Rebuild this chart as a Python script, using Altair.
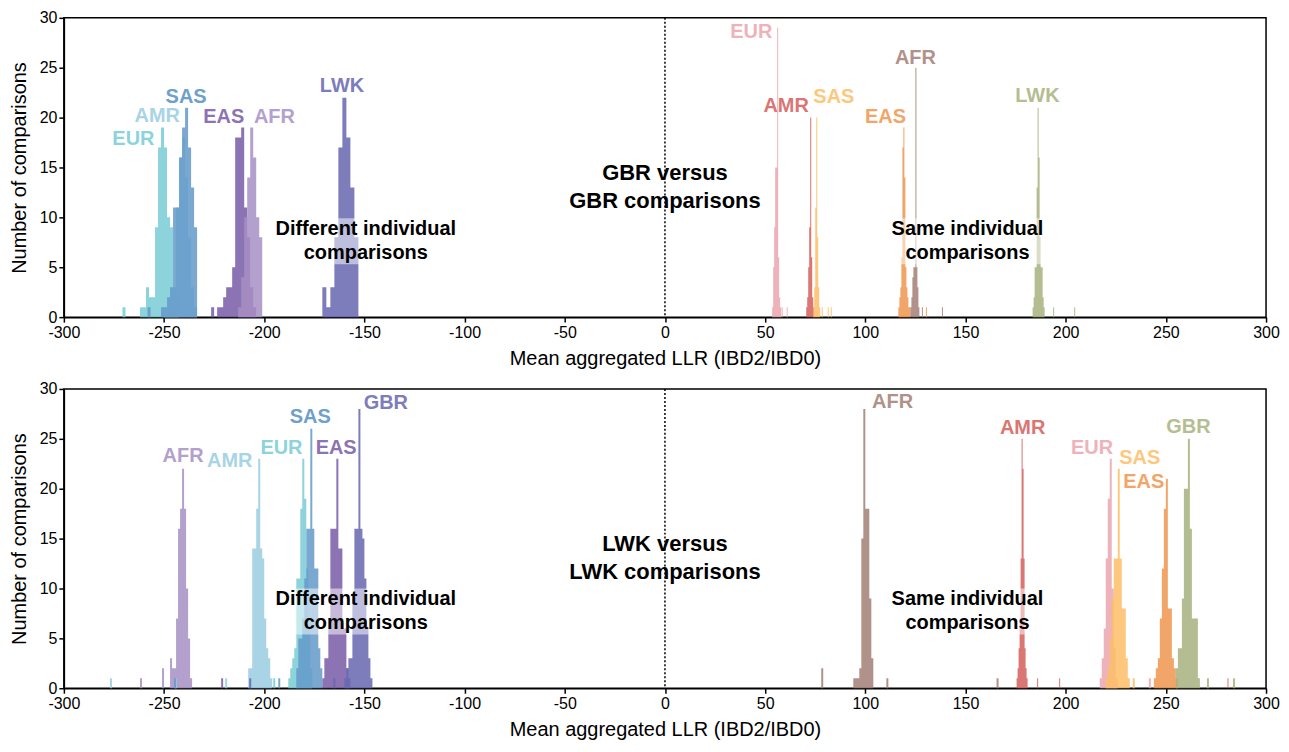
import altair as alt
import pandas as pd

# ---------------- axis ticks ----------------
X_TICKS = [-300, -250, -200, -150, -100, -50, 0, 50, 100, 150, 200, 250, 300]
Y_TICKS = [0, 5, 10, 15, 20, 25, 30]
X_TITLE = "Mean aggregated LLR (IBD2/IBD0)"
Y_TITLE = "Number of comparisons"

# ---------------- colour groups ----------------
KEYS = ["L_EUR", "L_AMR", "L_SAS", "L_EAS", "L_AFR", "L_REF",
        "R_EUR", "R_AMR", "R_SAS", "R_EAS", "R_AFR", "R_REF"]
BAR_COLORS = ["#79CBD5", "#99CCE2", "#6399C9", "#785AA7", "#A78FC4", "#6666B0",
              "#EBA4AE", "#D35E5A", "#FDBE66", "#F0954E", "#A27F75", "#A7B27E"]
LABEL_COLORS = ["#8DD3DB", "#A8D4E6", "#6EA0CC", "#8C73B4", "#B4A0CD", "#7D7DBC",
                "#EEB2BA", "#DA7673", "#FDC87D", "#F2A569", "#B0928A", "#B4BE91"]
BAR_COLOR = dict(zip(KEYS, BAR_COLORS))

# ---------------- TOP panel: GBR versus ... ----------------
# different individual comparisons (start, bin width, counts)
T_EUR_L = (-262.0, 1.5, [1, 1, 3, 2, 2, 9, 17, 19, 17, 10, 9, 3, 2])
T_AMR_L = (-250.0, 1.5, [1, 1, 2, 3, 11, 16, 18, 14, 8, 3, 1])
T_SAS_L = (-251.5, 1.5, [1, 1, 2, 3, 11, 11, 16, 19, 21, 17, 13, 9])
T_EAS_L = (-226.5, 1.5, [1, 0, 1, 1, 2, 3, 3, 5, 18, 18, 19, 11, 8, 3, 1])
T_AFR_L = (-213.0, 1.5, [1, 4, 10, 14, 19, 16, 10, 8])
T_LWK_L = (-171.0, 2.0, [3, 1, 3, 8, 17, 22, 18, 13, 8])
# same individual comparisons
T_EUR_R = (53.5, 0.5, [1, 5, 9, 15, 15, 29, 6, 2, 1])
T_AMR_R = (70.5, 0.5, [1, 2, 5, 9, 20, 6, 2, 1])
T_SAS_R = (74.0, 0.5, [1, 3, 11, 20, 8, 3, 1])
T_EAS_R = (116.5, 0.5, [1, 2, 3, 6, 17, 19, 14, 5, 3, 2, 1, 1])
T_AFR_R = (122.5, 0.5, [1, 2, 4, 5, 5, 25, 5, 3, 1])
T_LWK_R = (183.5, 0.5, [1, 2, 5, 5, 13, 21, 16, 8, 5, 5, 2, 1])
# isolated single comparisons (value, count)
T_OUT_EUR_L = [(-270.0, 1)]
T_OUT_SAS_L = [(-257.5, 1)]
T_OUT_EUR_R = [(58.5, 1), (61.0, 1)]
T_OUT_SAS_R = [(78.5, 1), (81.5, 1), (83.0, 1)]
T_OUT_EAS_R = [(130.5, 1)]
T_OUT_AFR_R = [(128.5, 1), (138.5, 1)]
T_OUT_LWK_R = [(194.0, 1), (204.5, 1)]

# ---------------- BOTTOM panel: LWK versus ... ----------------
B_AFR_L = (-247.0, 1.0, [3, 2, 2, 7, 16, 18, 22, 18, 10, 5, 1])
B_AMR_L = (-208.0, 1.0, [2, 2, 14, 14, 18, 23, 14, 13, 7, 4, 3, 1])
B_EUR_L = (-188.0, 1.0, [1, 2, 3, 4, 11, 11, 18, 23, 19, 12, 6, 2])
B_SAS_L = (-184.0, 1.0, [2, 5, 5, 7, 11, 16, 16, 26, 16, 12, 12, 4, 2])
B_EAS_L = (-171.0, 1.0, [1, 3, 3, 6, 16, 16, 16, 23, 14, 14, 6, 6, 2, 1])
B_GBR_L = (-160.0, 1.0, [1, 2, 3, 3, 9, 16, 16, 28, 16, 15, 11, 6, 3, 1])
B_AFR_R = (94.0, 1.0, [1, 1, 1, 2, 15, 28, 18, 18, 9, 3])
B_AMR_R = (175.5, 0.5, [1, 2, 4, 7, 13, 25, 22, 13, 4, 2, 1])
B_EUR_R = (217.0, 1.0, [1, 3, 6, 13, 19, 23, 10, 4, 1])
B_SAS_R = (220.0, 1.0, [1, 2, 5, 9, 13, 13, 22, 13, 8, 8, 3, 1])
B_EAS_R = (244.0, 1.0, [1, 2, 3, 7, 12, 18, 21, 8, 8, 3, 2, 1])
B_GBR_R = (255.0, 1.0, [2, 4, 4, 9, 20, 20, 25, 16, 7, 7, 7, 1])
B_OUT_AFR_L = [(-261.5, 1), (-250.5, 2)]
B_OUT_AMR_L = [(-276.5, 1), (-244.0, 1), (-219.0, 1)]
B_OUT_EUR_L = [(-195.0, 1)]
B_OUT_SAS_L = [(-244.5, 1), (-192.5, 1)]
B_OUT_EAS_L = [(-221.0, 1)]
B_OUT_GBR_L = [(-207.0, 1), (-165.0, 1)]
B_OUT_AFR_R = [(78.5, 2), (111.0, 1), (166.0, 1)]
B_OUT_AMR_R = [(186.0, 1), (197.0, 1), (281.0, 1)]
B_OUT_EUR_R = [(242.0, 1)]
B_OUT_SAS_R = [(234.0, 1)]
B_OUT_GBR_R = [(271.0, 1), (284.0, 1)]

# ---------------- labels ----------------
T_LABEL_TEXT = ["EUR", "AMR", "SAS", "EAS", "AFR", "LWK", "EUR", "AMR", "SAS", "EAS", "AFR", "LWK"]
T_LABEL_KEY = KEYS
T_LABEL_X = [-265.3, -253.4, -239.0, -220.2, -194.9, -161.2, 43.1, 60.5, 84.3, 110.1, 125.0, 185.9]
T_LABEL_Y = [17.9, 20.2, 22.1, 20.1, 20.1, 23.2, 28.6, 21.2, 22.1, 20.1, 26.0, 22.2]
B_LABEL_TEXT = ["AFR", "AMR", "EUR", "SAS", "EAS", "GBR", "AFR", "AMR", "EUR", "SAS", "EAS", "GBR"]
B_LABEL_KEY = ["L_AFR", "L_AMR", "L_EUR", "L_SAS", "L_EAS", "L_REF",
               "R_AFR", "R_AMR", "R_EUR", "R_SAS", "R_EAS", "R_REF"]
B_LABEL_X = [-240.5, -217.2, -191.4, -177.0, -164.1, -139.3, 113.6, 178.5, 213.2, 237.0, 239.0, 261.3]
B_LABEL_Y = [23.3, 22.8, 24.1, 27.2, 24.1, 28.6, 28.7, 26.1, 24.1, 23.1, 20.7, 26.2]

T_NOTE_TEXT = ["GBR versus", "GBR comparisons", "Different individual", "comparisons",
               "Same individual", "comparisons"]
B_NOTE_TEXT = ["LWK versus", "LWK comparisons", "Different individual", "comparisons",
               "Same individual", "comparisons"]
NOTE_X = [0.0, 0.0, -149.3, -149.3, 151.0, 151.0]
T_NOTE_Y = [14.4, 11.6, 8.84, 6.45, 8.84, 6.45]
B_NOTE_Y = [14.5, 11.7, 8.94, 6.55, 8.94, 6.55]
NOTE_SIZE = [22, 22, 20, 20, 20, 20]
BOX_X = [-195.0, 112.0]
BOX_X2 = [-103.0, 190.0]
T_BOX_Y = [5.3, 5.3]
T_BOX_Y2 = [9.9, 9.9]
B_BOX_Y = [5.4, 5.4]
B_BOX_Y2 = [10.0, 10.0]

FONT = "Liberation Sans"


def step_points(spec, outliers):
    """Histogram bins -> outline points for a step-after area (no seams between bins)."""
    start, width, counts = spec
    bins = [(start + i * width, start + (i + 1) * width, c) for i, c in enumerate(counts)]
    bins += [(v - width / 2, v + width / 2, c) for v, c in outliers]
    bins.sort()
    pts = []
    for i, (lo, hi, c) in enumerate(bins):
        pts.append((lo, c))
        nxt = bins[i + 1][0] if i + 1 < len(bins) else None
        if nxt is None or abs(nxt - hi) > 1e-9:
            pts.append((hi, 0))
    return pd.DataFrame({"x": [p[0] for p in pts], "count": [p[1] for p in pts]})


def panel(series, lab_text, lab_key, lab_x, lab_y, note_text, note_y, box_y, box_y2):
    xs = alt.Scale(domain=[-300, 300], nice=False, zero=False)
    ys = alt.Scale(domain=[0, 30], nice=False)
    xaxis = alt.Axis(values=X_TICKS, labelExpr="datum.value + ''", title=X_TITLE)
    yaxis = alt.Axis(values=Y_TICKS, title=Y_TITLE)

    layers = []
    for key, spec, outs in series:
        df = step_points(spec, outs)
        layers.append(
            alt.Chart(df).mark_area(
                interpolate="step-after", opacity=0.85, color=BAR_COLOR[key], strokeWidth=0
            ).encode(
                x=alt.X("x:Q", scale=xs, axis=xaxis),
                y=alt.Y("count:Q", scale=ys, axis=yaxis),
                y2=alt.datum(0),
            )
        )

    box_df = pd.DataFrame({"x": BOX_X, "x2": BOX_X2, "y": box_y, "y2": box_y2})
    boxes = alt.Chart(box_df).mark_rect(color="white", opacity=0.5).encode(
        x=alt.X("x:Q", scale=xs, axis=xaxis), x2="x2:Q",
        y=alt.Y("y:Q", scale=ys, axis=yaxis), y2="y2:Q"
    )

    rule = alt.Chart(pd.DataFrame({"v": [0]})).mark_rule(
        color="black", strokeDash=[2, 2], strokeWidth=1.5
    ).encode(x=alt.X("v:Q", scale=xs, axis=xaxis))

    lab_df = pd.DataFrame({"t": lab_text, "key": lab_key, "x": lab_x, "y": lab_y})
    labels = alt.Chart(lab_df).mark_text(
        font=FONT, fontWeight="bold", fontSize=20, align="center", baseline="middle"
    ).encode(
        x=alt.X("x:Q", scale=xs, axis=xaxis), y=alt.Y("y:Q", scale=ys, axis=yaxis), text="t:N",
        color=alt.Color("key:N", scale=alt.Scale(domain=KEYS, range=LABEL_COLORS), legend=None),
    )

    note_df = pd.DataFrame({"t": note_text, "x": NOTE_X, "y": note_y, "s": NOTE_SIZE})
    notes = alt.Chart(note_df).mark_text(
        font=FONT, fontWeight="bold", align="center", baseline="middle", color="black"
    ).encode(
        x=alt.X("x:Q", scale=xs, axis=xaxis), y=alt.Y("y:Q", scale=ys, axis=yaxis), text="t:N",
        size=alt.Size("s:Q", scale=None, legend=None),
    )

    return alt.layer(*layers, boxes, rule, labels, notes).properties(width=1205, height=300)


top = panel(
    [("L_EUR", T_EUR_L, T_OUT_EUR_L), ("L_AMR", T_AMR_L, []), ("L_SAS", T_SAS_L, T_OUT_SAS_L),
     ("L_EAS", T_EAS_L, []), ("L_AFR", T_AFR_L, []), ("L_REF", T_LWK_L, []),
     ("R_EUR", T_EUR_R, T_OUT_EUR_R), ("R_AMR", T_AMR_R, []), ("R_SAS", T_SAS_R, T_OUT_SAS_R),
     ("R_EAS", T_EAS_R, T_OUT_EAS_R), ("R_AFR", T_AFR_R, T_OUT_AFR_R), ("R_REF", T_LWK_R, T_OUT_LWK_R)],
    T_LABEL_TEXT, T_LABEL_KEY, T_LABEL_X, T_LABEL_Y, T_NOTE_TEXT, T_NOTE_Y, T_BOX_Y, T_BOX_Y2,
)
bottom = panel(
    [("L_AFR", B_AFR_L, B_OUT_AFR_L), ("L_AMR", B_AMR_L, B_OUT_AMR_L), ("L_EUR", B_EUR_L, B_OUT_EUR_L),
     ("L_SAS", B_SAS_L, B_OUT_SAS_L), ("L_EAS", B_EAS_L, B_OUT_EAS_L), ("L_REF", B_GBR_L, B_OUT_GBR_L),
     ("R_AFR", B_AFR_R, B_OUT_AFR_R), ("R_AMR", B_AMR_R, B_OUT_AMR_R), ("R_EUR", B_EUR_R, B_OUT_EUR_R),
     ("R_SAS", B_SAS_R, B_OUT_SAS_R), ("R_EAS", B_EAS_R, []), ("R_REF", B_GBR_R, B_OUT_GBR_R)],
    B_LABEL_TEXT, B_LABEL_KEY, B_LABEL_X, B_LABEL_Y, B_NOTE_TEXT, B_NOTE_Y, B_BOX_Y, B_BOX_Y2,
)

chart = alt.vconcat(top, bottom, spacing=11).properties(
    padding={"left": 0, "top": 0, "right": 0, "bottom": 0}
).configure_view(
    stroke="black", strokeWidth=1.5
).configure_axis(
    grid=False, domainColor="black", domainWidth=1.5, tickColor="black", tickWidth=1.5,
    tickSize=5, labelColor="black", titleColor="black", labelFont=FONT, titleFont=FONT,
    labelFontSize=16, titleFontSize=20, titleFontWeight="normal", labelPadding=2,
).configure_axisX(titlePadding=8, labelFlush=False).configure_axisY(titlePadding=10, labelFlush=False)

chart.save("out.html", embed_options={"renderer": "svg", "actions": False})
